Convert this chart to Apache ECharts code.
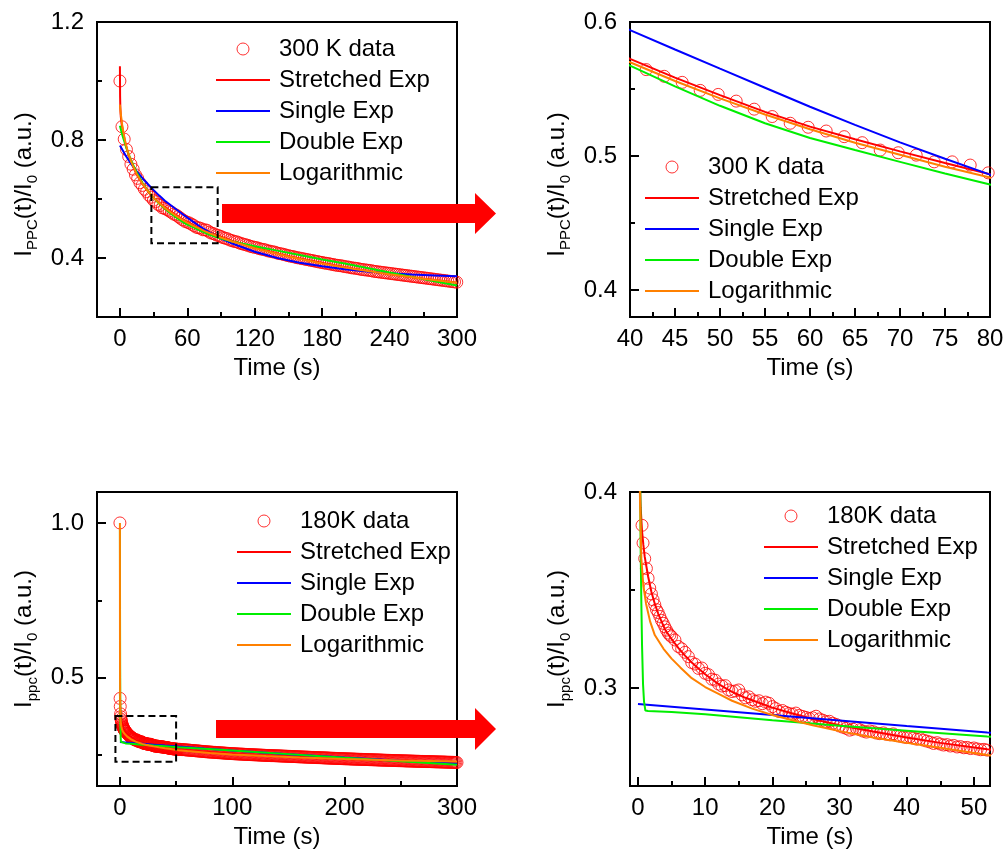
<!DOCTYPE html>
<html>
<head>
<meta charset="utf-8">
<script src="https://cdn.jsdelivr.net/npm/echarts@6/dist/echarts.min.js"></script>
<style>
html, body { margin: 0; padding: 0; background: #fff; }
#chart { width: 1007px; height: 852px; }
</style>
</head>
<body>
<div id="chart"></div>
<script>
// ---------- 300 K decay: measured points ----------
const T300 = [0, 1.8, 3.8, 5.8, 7.8, 9.8, 11.8, 13.8, 15.8, 17.8, 19.8, 21.8, 23.8, 25.8, 27.8, 29.8, 31.8, 33.8, 35.8, 37.8,
  39.8, 41.8, 43.8, 45.8, 47.8, 49.8, 51.8, 53.8, 55.8, 57.8, 59.8, 61.8, 63.8, 65.8, 67.8, 69.8, 71.8, 73.8, 75.8, 77.8,
  79.8, 81.8, 83.8, 85.8, 87.8, 89.8, 91.8, 93.8, 95.8, 97.8, 99.8, 101.8, 103.8, 105.8, 107.8, 109.8, 111.8, 113.8, 115.8, 117.8,
  119.8, 121.8, 123.8, 125.8, 127.8, 129.8, 131.8, 133.8, 135.8, 137.8, 139.8, 141.8, 143.8, 145.8, 147.8, 149.8, 151.8, 153.8, 155.8, 157.8,
  159.8, 161.8, 163.8, 165.8, 167.8, 169.8, 171.8, 173.8, 175.8, 177.8, 179.8, 181.8, 183.8, 185.8, 187.8, 189.8, 191.8, 193.8, 195.8, 197.8,
  199.8, 201.8, 203.8, 205.8, 207.8, 209.8, 211.8, 213.8, 215.8, 217.8, 219.8, 221.8, 223.8, 225.8, 227.8, 229.8, 231.8, 233.8, 235.8, 237.8,
  239.8, 241.8, 243.8, 245.8, 247.8, 249.8, 251.8, 253.8, 255.8, 257.8, 259.8, 261.8, 263.8, 265.8, 267.8, 269.8, 271.8, 273.8, 275.8, 277.8,
  279.8, 281.8, 283.8, 285.8, 287.8, 289.8, 291.8, 293.8, 295.8, 297.8, 299.8];
const V300 = [1.000, 0.845, 0.803, 0.768, 0.744, 0.718, 0.701, 0.682, 0.670, 0.655, 0.646, 0.633, 0.625, 0.613, 0.606, 0.596, 0.591, 0.582, 0.578, 0.570,
  0.568, 0.5645, 0.5595, 0.555, 0.549, 0.546, 0.541, 0.535, 0.5295, 0.5245, 0.5215, 0.5187, 0.5145, 0.510, 0.5045, 0.5025, 0.5007, 0.4957, 0.4957, 0.4933,
  0.4875, 0.484, 0.482, 0.478, 0.476, 0.473, 0.469, 0.467, 0.465, 0.461, 0.459, 0.456, 0.455, 0.452, 0.449, 0.447, 0.445, 0.443, 0.440, 0.438,
  0.436, 0.435, 0.432, 0.430, 0.429, 0.427, 0.424, 0.423, 0.421, 0.420, 0.417, 0.415, 0.414, 0.412, 0.410, 0.408, 0.406, 0.405, 0.403, 0.401,
  0.400, 0.398, 0.397, 0.395, 0.394, 0.392, 0.391, 0.389, 0.388, 0.386, 0.385, 0.383, 0.382, 0.381, 0.379, 0.378, 0.376, 0.375, 0.374, 0.373,
  0.371, 0.370, 0.369, 0.367, 0.366, 0.365, 0.364, 0.362, 0.361, 0.360, 0.359, 0.358, 0.357, 0.355, 0.354, 0.353, 0.352, 0.351, 0.350, 0.349,
  0.348, 0.347, 0.346, 0.345, 0.344, 0.343, 0.342, 0.341, 0.340, 0.339, 0.338, 0.337, 0.336, 0.335, 0.334, 0.333, 0.332, 0.331, 0.330, 0.329,
  0.328, 0.327, 0.326, 0.325, 0.324, 0.323, 0.322, 0.321, 0.320, 0.319, 0.318];

// ---------- 300 K decay: fitted curves [time, value] ----------
const STRETCHED_300 = [[0, 1.05], [0.15, 0.95], [0.4, 0.905], [0.8, 0.878], [1.5, 0.855], [2, 0.845], [3, 0.823], [5, 0.787], [7, 0.758], [10, 0.724],
  [15, 0.682], [20, 0.651], [25, 0.626], [30, 0.604], [35, 0.587], [40, 0.5725], [45, 0.5585], [50, 0.5455], [55, 0.533], [60, 0.522],
  [65, 0.5125], [70, 0.5035], [75, 0.4948], [80, 0.4865], [90, 0.472], [100, 0.458], [120, 0.435], [150, 0.406], [180, 0.383], [210, 0.362],
  [240, 0.345], [270, 0.330], [300, 0.316]];
const SINGLE_300 = [[0, 0.781], [5, 0.748], [10, 0.719], [15, 0.694], [20, 0.671], [25, 0.650], [30, 0.630], [35, 0.6115], [40, 0.594], [45, 0.5795],
  [50, 0.5652], [55, 0.5510], [60, 0.5368], [65, 0.5233], [70, 0.5102], [75, 0.4980], [80, 0.4862], [90, 0.466], [100, 0.449], [120, 0.421],
  [140, 0.400], [160, 0.384], [180, 0.372], [200, 0.362], [220, 0.354], [240, 0.348], [260, 0.344], [280, 0.341], [300, 0.338]];
const DOUBLE_300 = [[0, 0.848], [1, 0.833], [2, 0.819], [3, 0.806], [5, 0.782], [7, 0.760], [10, 0.730], [15, 0.689], [20, 0.655], [25, 0.627],
  [30, 0.604], [35, 0.584], [40, 0.5674], [45, 0.552], [50, 0.5375], [55, 0.5245], [60, 0.5135], [65, 0.5045], [70, 0.4957], [75, 0.487],
  [80, 0.4788], [90, 0.466], [100, 0.456], [120, 0.440], [140, 0.425], [160, 0.410], [180, 0.395], [200, 0.381], [220, 0.366], [240, 0.351],
  [260, 0.336], [280, 0.321], [300, 0.307]];
const LOG_300 = [[0, 0.920], [1, 0.882], [2, 0.852], [3, 0.828], [5, 0.790], [7, 0.761], [10, 0.726], [15, 0.684], [20, 0.652], [25, 0.626],
  [30, 0.6045], [35, 0.586], [40, 0.570], [45, 0.556], [50, 0.543], [55, 0.531], [60, 0.520], [65, 0.510], [70, 0.501], [75, 0.492],
  [80, 0.484], [90, 0.4695], [100, 0.456], [120, 0.433], [150, 0.405], [180, 0.3815], [210, 0.362], [240, 0.3446], [270, 0.3295], [300, 0.316]];

// ---------- 180 K decay: measured points, first 52 s ----------
const T180 = [0, 0.15, 0.3, 0.6, 0.75, 1.0, 1.25, 1.5, 1.75, 2.0, 2.25, 2.5, 2.75, 3.0, 3.25, 3.5, 3.75, 4.0, 4.25, 4.5, 4.75,
  5.0, 5.5, 6.0, 6.5, 7.0, 7.5, 8.0, 8.5, 9.0, 9.5, 10.0, 10.5, 11.0, 11.5, 12.0, 12.5, 13.0, 13.5, 14.0, 14.5,
  15.0, 15.5, 16.0, 16.5, 17.0, 17.5, 18.0, 18.5, 19.0, 19.5, 20.0, 20.5, 21.0, 21.5, 22.0, 22.5, 23.0, 23.5, 24.0, 24.5,
  25.0, 25.5, 26.0, 26.5, 27.0, 27.5, 28.0, 28.5, 29.0, 29.5, 30.0, 30.5, 31.0, 31.5, 32.0, 32.5, 33.0, 33.5, 34.0, 34.5,
  35.0, 35.5, 36.0, 36.5, 37.0, 37.5, 38.0, 38.5, 39.0, 39.5, 40.0, 40.5, 41.0, 41.5, 42.0, 42.5, 43.0, 43.5, 44.0, 44.5,
  45.0, 45.5, 46.0, 46.5, 47.0, 47.5, 48.0, 48.5, 49.0, 49.5, 50.0, 50.5, 51.0, 51.5, 52.0];
const V180 = [1.000, 0.433, 0.407, 0.383, 0.374, 0.366, 0.361, 0.356, 0.351, 0.348, 0.345, 0.3425, 0.340, 0.3385, 0.3365, 0.3345, 0.333, 0.3312, 0.3295, 0.328, 0.327,
  0.3262, 0.3245, 0.3212, 0.3200, 0.3182, 0.3160, 0.3130, 0.3122, 0.3100, 0.3102, 0.3075, 0.3068, 0.3045, 0.3040, 0.3020, 0.3010, 0.3012, 0.2990, 0.2982, 0.2985,
  0.2990, 0.2965, 0.2950, 0.2955, 0.2940, 0.2932, 0.2935, 0.2920, 0.2928, 0.2922, 0.2905, 0.2895, 0.2880, 0.2885, 0.2876, 0.2870, 0.2866, 0.2872, 0.2860, 0.2855,
  0.2850, 0.2844, 0.2848, 0.2856, 0.2842, 0.2836, 0.2828, 0.2830, 0.2820, 0.2814, 0.2806, 0.2800, 0.2794, 0.2785, 0.2790, 0.2796, 0.2787, 0.2780, 0.2775, 0.2781,
  0.2777, 0.2770, 0.2767, 0.2771, 0.2764, 0.2761, 0.2766, 0.2757, 0.2754, 0.2750, 0.2747, 0.2751, 0.2744, 0.2739, 0.2741, 0.2734, 0.2729, 0.2724, 0.2717, 0.2721,
  0.2714, 0.2709, 0.2711, 0.2704, 0.2707, 0.2699, 0.2701, 0.2695, 0.2697, 0.2691, 0.2694, 0.2689, 0.2685, 0.2687, 0.2683];

// ---------- 180 K decay: measured points, 53 s to 300 s ----------
const T180_TAIL = [53, 54, 55, 56, 57, 58, 59, 60, 61, 62, 63, 64, 65, 66, 67, 68, 69, 70, 71, 72, 73, 74, 75, 76, 77, 78, 79, 80,
  81, 82, 83, 84, 85, 86, 87, 88, 89, 90, 91, 92, 93, 94, 95, 96, 97, 98, 99, 100,
  101, 102, 103, 104, 105, 106, 107, 108, 109, 110, 111, 112, 113, 114, 115, 116, 117, 118, 119, 120, 121, 122, 123, 124, 125,
  126, 127, 128, 129, 130, 131, 132, 133, 134, 135, 136, 137, 138, 139, 140, 141, 142, 143, 144, 145, 146, 147, 148, 149, 150,
  151, 152, 153, 154, 155, 156, 157, 158, 159, 160, 161, 162, 163, 164, 165, 166, 167, 168, 169, 170, 171, 172, 173, 174, 175,
  176, 177, 178, 179, 180, 181, 182, 183, 184, 185, 186, 187, 188, 189, 190, 191, 192, 193, 194, 195, 196, 197, 198, 199, 200,
  201, 202, 203, 204, 205, 206, 207, 208, 209, 210, 211, 212, 213, 214, 215, 216, 217, 218, 219, 220, 221, 222, 223, 224, 225,
  226, 227, 228, 229, 230, 231, 232, 233, 234, 235, 236, 237, 238, 239, 240, 241, 242, 243, 244, 245, 246, 247, 248, 249, 250,
  251, 252, 253, 254, 255, 256, 257, 258, 259, 260, 261, 262, 263, 264, 265, 266, 267, 268, 269, 270, 271, 272, 273, 274, 275,
  276, 277, 278, 279, 280, 281, 282, 283, 284, 285, 286, 287, 288, 289, 290, 291, 292, 293, 294, 295, 296, 297, 298, 299, 300];
const V180_TAIL = [0.2686, 0.2682, 0.2677, 0.2675, 0.2674, 0.2670, 0.2665, 0.2662, 0.2661, 0.2657, 0.2652, 0.2650, 0.2648, 0.2644, 0.2639, 0.2636, 0.2635, 0.2631, 0.2626, 0.2622, 0.2621, 0.2618, 0.2612, 0.2608, 0.2607, 0.2604, 0.2600, 0.2597,
  0.2596, 0.2593, 0.2589, 0.2587, 0.2586, 0.2582, 0.2578, 0.2575, 0.2574, 0.2571, 0.2568, 0.2566, 0.2564, 0.2560, 0.2557, 0.2556, 0.2554, 0.2550, 0.2547, 0.2546,
  0.2545, 0.2541, 0.2539, 0.2538, 0.2536, 0.2533, 0.2531, 0.2530, 0.2529, 0.2526, 0.2523, 0.2521, 0.2521, 0.2519, 0.2516, 0.2514, 0.2513, 0.2511, 0.2509, 0.2507, 0.2506, 0.2504, 0.2502, 0.2500, 0.2499,
  0.2497, 0.2495, 0.2493, 0.2492, 0.2490, 0.2488, 0.2487, 0.2486, 0.2483, 0.2482, 0.2481, 0.2479, 0.2477, 0.2476, 0.2474, 0.2474, 0.2472, 0.2470, 0.2468, 0.2467, 0.2465, 0.2464, 0.2462, 0.2461, 0.2458,
  0.2457, 0.2456, 0.2454, 0.2452, 0.2451, 0.2449, 0.2448, 0.2446, 0.2444, 0.2442, 0.2441, 0.2440, 0.2438, 0.2436, 0.2435, 0.2433, 0.2432, 0.2430, 0.2428, 0.2426, 0.2425, 0.2424, 0.2422, 0.2420, 0.2419,
  0.2418, 0.2416, 0.2414, 0.2413, 0.2411, 0.2410, 0.2408, 0.2407, 0.2405, 0.2404, 0.2402, 0.2400, 0.2398, 0.2397, 0.2396, 0.2394, 0.2392, 0.2391, 0.2390, 0.2388, 0.2386, 0.2385, 0.2384, 0.2382, 0.2380,
  0.2379, 0.2378, 0.2377, 0.2375, 0.2374, 0.2372, 0.2371, 0.2370, 0.2368, 0.2367, 0.2366, 0.2364, 0.2363, 0.2362, 0.2361, 0.2359, 0.2358, 0.2357, 0.2356, 0.2354, 0.2353, 0.2351, 0.2350, 0.2349, 0.2348,
  0.2346, 0.2345, 0.2344, 0.2343, 0.2341, 0.2340, 0.2338, 0.2337, 0.2336, 0.2335, 0.2333, 0.2332, 0.2331, 0.2330, 0.2328, 0.2327, 0.2326, 0.2325, 0.2323, 0.2322, 0.2321, 0.2320, 0.2318, 0.2317, 0.2316,
  0.2315, 0.2314, 0.2313, 0.2311, 0.2310, 0.2309, 0.2308, 0.2307, 0.2306, 0.2305, 0.2304, 0.2302, 0.2301, 0.2300, 0.2299, 0.2298, 0.2297, 0.2296, 0.2295, 0.2293, 0.2292, 0.2291, 0.2290, 0.2289, 0.2288,
  0.2287, 0.2286, 0.2285, 0.2284, 0.2282, 0.2281, 0.2280, 0.2279, 0.2278, 0.2277, 0.2276, 0.2275, 0.2274, 0.2273, 0.2271, 0.2270, 0.2269, 0.2268, 0.2267, 0.2266, 0.2265, 0.2264, 0.2262, 0.2261, 0.2260];

// ---------- 180 K decay: fitted curves [time, value] ----------
const STRETCHED_180 = [[0, 0.45], [0.2, 0.415], [0.4, 0.392], [0.6, 0.380], [0.8, 0.373], [1, 0.367], [1.5, 0.357], [2, 0.349], [2.5, 0.343], [3, 0.338],
  [4, 0.330], [5, 0.325], [6, 0.3205], [7, 0.3165], [8, 0.313], [9, 0.310], [10, 0.307], [12, 0.302], [14, 0.298], [16, 0.295],
  [18, 0.2925], [20, 0.290], [23, 0.287], [26, 0.2842], [30, 0.281], [35, 0.2778], [40, 0.2748], [45, 0.272], [52, 0.2688], [60, 0.266],
  [75, 0.261], [100, 0.2545], [125, 0.2495], [150, 0.2455], [200, 0.238], [250, 0.232], [300, 0.2262]];
const SINGLE_180 = [[0, 0.2918], [10, 0.289], [20, 0.2862], [30, 0.2834], [40, 0.2806], [52, 0.2773], [75, 0.2712], [100, 0.2648],
  [150, 0.2528], [200, 0.2418], [250, 0.2314], [300, 0.2218]];
const DOUBLE_180 = [[0, 0.98], [0.1, 0.72], [0.2, 0.53], [0.3, 0.42], [0.4, 0.37], [0.5, 0.343], [0.6, 0.322], [0.75, 0.302], [0.9, 0.293], [1.1, 0.2885],
  [1.5, 0.2883], [5, 0.2877], [10, 0.2866], [20, 0.2835], [30, 0.2808], [40, 0.2782], [52, 0.2752], [75, 0.270], [100, 0.2648],
  [150, 0.253], [200, 0.241], [250, 0.230], [300, 0.219]];
const LOG_180 = [[0, 1.0], [0.05, 0.62], [0.1, 0.50], [0.2, 0.425], [0.3, 0.395], [0.5, 0.366], [0.8, 0.352], [1.2, 0.343], [1.8, 0.334], [2.5, 0.327],
  [3.8, 0.320], [5, 0.315], [6.3, 0.3105], [8, 0.305], [10, 0.3005], [12, 0.297], [14, 0.2935], [17, 0.2895], [20, 0.2862], [23, 0.2835],
  [26, 0.281], [30, 0.278], [35, 0.2748], [40, 0.272], [45, 0.2695], [52, 0.2658], [60, 0.2628], [80, 0.2567], [100, 0.2521], [130, 0.2466],
  [160, 0.2422], [200, 0.2375], [250, 0.2328], [300, 0.229]];

// ---------- axis ticks and labels ----------
const X_LABELS = [[0, 60, 120, 180, 240, 300], [40, 45, 50, 55, 60, 65, 70, 75, 80], [0, 100, 200, 300], [0, 10, 20, 30, 40, 50]];
const X_MINOR = [[30, 90, 150, 210, 270], [42.5, 47.5, 52.5, 57.5, 62.5, 67.5, 72.5, 77.5], [50, 150, 250], [5, 15, 25, 35, 45]];
const Y_LABELS = [[0.4, 0.8, 1.2], [0.4, 0.5, 0.6], [0.5, 1.0], [0.3, 0.4]];
const Y_MINOR = [[0.6, 1.0], [0.45, 0.55], [0.25, 0.75], [0.35]];
const X_RANGE = [[-20.4, 300], [40, 80], [-20.4, 300], [-1.19, 52.4]];
const Y_RANGE = [[0.2, 1.2], [0.38, 0.6], [0.15, 1.1], [0.25, 0.4]];
const SUBSCRIPT = ['PPC', 'PPC', 'ppc', 'ppc'];
const DATA_NAME = ['300 K data', '300 K data', '180K data', '180K data'];
const FIT_NAMES = ['Stretched Exp', 'Single Exp', 'Double Exp', 'Logarithmic'];

// ---------- styling ----------
const FONT = '"Liberation Sans", Arial, Helvetica, sans-serif';
const RED = '#ff0000', BLUE = '#0000ff', GREEN = '#00ee00', ORANGE = '#ff8000';
const FIT_COLORS = [RED, BLUE, GREEN, ORANGE];

const GRIDS = [
  { left: 97, top: 22, width: 360, height: 295 },
  { left: 630, top: 22, width: 360, height: 295 },
  { left: 97, top: 492, width: 360, height: 294 },
  { left: 630, top: 492, width: 360, height: 294 }
];
const LEGEND_POS = [[215, 37], [644, 155], [236, 509], [763, 504]];

const pairs = (ts, vs) => ts.map((t, i) => [t, vs[i]]);
const DATA_300 = pairs(T300, V300);
const DATA_180 = pairs(T180, V180).concat(pairs(T180_TAIL, V180_TAIL));
const DATA_SETS = [DATA_300, DATA_300, DATA_180, DATA_180];
const FITS = [
  [STRETCHED_300, SINGLE_300, DOUBLE_300, LOG_300],
  [STRETCHED_300, SINGLE_300, DOUBLE_300, LOG_300],
  [STRETCHED_180, SINGLE_180, DOUBLE_180, LOG_180],
  [STRETCHED_180, SINGLE_180, DOUBLE_180, LOG_180]
];
// dashed boxes marking the zoomed-in windows
const ZOOM_BOX = [[[28, 0.64], [87, 0.45]], null, [[-4, 0.376], [50, 0.228]], null];

const xAxes = [], yAxes = [], series = [], legends = [];
const lineStyle = { color: '#000', width: 2 };

for (let p = 0; p < 4; p++) {
  // main x axis: labels + long inward ticks
  xAxes.push({
    type: 'value', gridIndex: p, position: 'bottom', min: X_RANGE[p][0], max: X_RANGE[p][1],
    axisLine: { show: true, onZero: false, lineStyle },
    axisTick: { show: true, inside: true, length: 9, customValues: X_LABELS[p], lineStyle },
    axisLabel: { show: true, customValues: X_LABELS[p], margin: 10, color: '#000', fontSize: 24, fontFamily: FONT,
      formatter: v => String(v) },
    splitLine: { show: false },
    name: 'Time (s)', nameLocation: 'middle', nameGap: 39,
    nameTextStyle: { color: '#000', fontSize: 24, fontFamily: FONT, lineHeight: 24 }
  });
  // companion x axis: short minor ticks only
  xAxes.push({
    type: 'value', gridIndex: p, position: 'bottom', min: X_RANGE[p][0], max: X_RANGE[p][1],
    axisLine: { show: false, onZero: false },
    axisTick: { show: true, inside: true, length: 5, customValues: X_MINOR[p], lineStyle },
    axisLabel: { show: false }, splitLine: { show: false }
  });
  const sub = SUBSCRIPT[p];
  yAxes.push({
    type: 'value', gridIndex: p, position: 'left', min: Y_RANGE[p][0], max: Y_RANGE[p][1],
    axisLine: { show: true, onZero: false, lineStyle },
    axisTick: { show: true, inside: true, length: 9, customValues: Y_LABELS[p], lineStyle },
    axisLabel: { show: true, customValues: Y_LABELS[p], margin: 13, color: '#000', fontSize: 24, fontFamily: FONT,
      formatter: v => v.toFixed(1) },
    splitLine: { show: false },
    name: '{m|I}{s|' + sub + '}{m|(t)/I}{s|0}{m| (a.u.)}',
    nameLocation: 'middle', nameGap: 57, nameRotate: 90,
    nameTextStyle: {
      color: '#000', fontFamily: FONT,
      padding: p < 2 ? [0, 30, 0, 0] : 0,
      rich: {
        m: { fontSize: 24, lineHeight: 32, fontFamily: FONT, color: '#000' },
        s: { fontSize: 15, lineHeight: 15, verticalAlign: 'bottom', fontFamily: FONT, color: '#000' }
      }
    }
  });
  yAxes.push({
    type: 'value', gridIndex: p, position: 'left', min: Y_RANGE[p][0], max: Y_RANGE[p][1],
    axisLine: { show: false, onZero: false },
    axisTick: { show: true, inside: true, length: 5, customValues: Y_MINOR[p], lineStyle },
    axisLabel: { show: false }, splitLine: { show: false }
  });

  const scatter = {
    type: 'scatter', name: DATA_NAME[p], xAxisIndex: 2 * p, yAxisIndex: 2 * p,
    data: DATA_SETS[p], symbol: 'circle', symbolSize: 12, clip: true, z: 2,
    itemStyle: { color: 'rgba(0,0,0,0)', borderColor: RED, borderWidth: 1 },
    emphasis: { disabled: true }
  };
  if (ZOOM_BOX[p]) {
    scatter.markArea = {
      silent: true, z: 10,
      label: { show: false },
      itemStyle: { color: 'rgba(0,0,0,0)', borderColor: '#000', borderWidth: 2, borderType: [7, 4] },
      data: [[{ coord: ZOOM_BOX[p][0] }, { coord: ZOOM_BOX[p][1] }]]
    };
  }
  series.push(scatter);

  FITS[p].forEach((fit, k) => {
    series.push({
      type: 'line', name: FIT_NAMES[k], xAxisIndex: 2 * p, yAxisIndex: 2 * p,
      data: fit, symbol: 'none', smooth: false, clip: true, z: 3 + k,
      lineStyle: { color: FIT_COLORS[k], width: 2 },
      itemStyle: { color: FIT_COLORS[k] },
      emphasis: { disabled: true }
    });
  });

  // legend: hollow circle for the data, plain line segments for the fits
  const hidden = { color: 'rgba(0,0,0,0)', borderColor: 'rgba(0,0,0,0)', borderWidth: 0 };
  legends.push({
    orient: 'vertical', left: LEGEND_POS[p][0], top: LEGEND_POS[p][1], padding: 0,
    itemWidth: 54, itemHeight: 12, itemGap: 7, selectedMode: false,
    textStyle: { color: '#000', fontSize: 24, fontFamily: FONT, lineHeight: 24, padding: [0, 0, 0, 4] },
    data: [
      { name: DATA_NAME[p], icon: 'circle', itemStyle: { color: 'rgba(0,0,0,0)', borderColor: RED, borderWidth: 1 } }
    ].concat(FIT_NAMES.map(n => ({ name: n, itemStyle: hidden })))
  });
}

const chart = echarts.init(document.getElementById('chart'), null, { renderer: 'canvas' });
chart.setOption({
  animation: false,
  backgroundColor: '#fff',
  grid: GRIDS.map(g => Object.assign({ show: true, borderColor: '#000', borderWidth: 2, containLabel: false, outerBoundsMode: 'none' }, g)),
  xAxis: xAxes,
  yAxis: yAxes,
  legend: legends,
  series: series,
  // red arrows pointing from each overview to its zoomed view
  graphic: [
    { type: 'polygon', z: 100, silent: true,
      shape: { points: [[222, 204], [475, 204], [475, 193], [496, 213.5], [475, 234], [475, 223], [222, 223]] },
      style: { fill: RED } },
    { type: 'polygon', z: 100, silent: true,
      shape: { points: [[216, 720], [475, 720], [475, 708], [496, 729], [475, 750], [475, 738], [216, 738]] },
      style: { fill: RED } }
  ]
});
</script>
</body>
</html>
